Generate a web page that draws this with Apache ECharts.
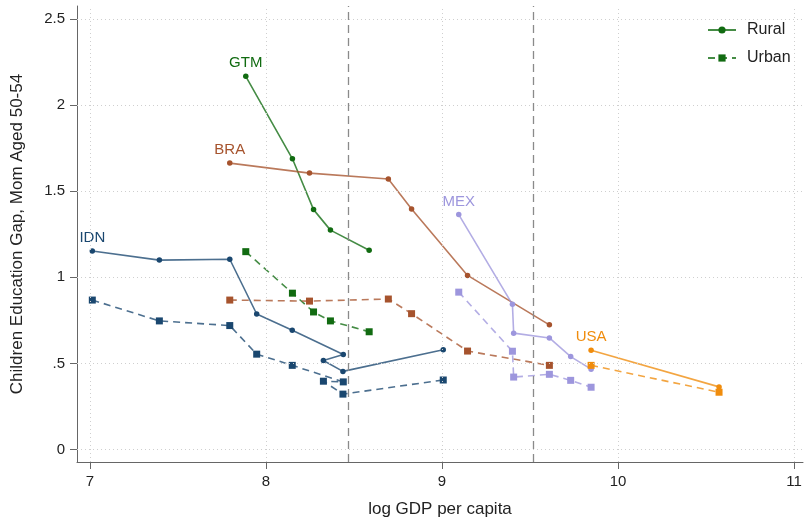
<!DOCTYPE html>
<html>
<head>
<meta charset="utf-8">
<script src="https://cdn.jsdelivr.net/npm/echarts@6/dist/echarts.min.js"></script>
<style>
  html, body { margin: 0; padding: 0; background: #fff; }
  #chart { width: 805px; height: 523px; }
</style>
</head>
<body>
<div id="chart"></div>
<script>
// Log GDP per capita by survey wave, one array per country
const idnGdp = [7.013, 7.394, 7.794, 7.947, 8.149, 8.439, 8.326, 8.437, 9.007];
const idnRural = [1.153, 1.100, 1.105, 0.787, 0.693, 0.552, 0.517, 0.454, 0.580];
const idnUrban = [0.868, 0.747, 0.720, 0.554, 0.489, 0.393, 0.397, 0.322, 0.404];

const gtmGdp = [7.885, 8.150, 8.270, 8.366, 8.586];
const gtmRural = [2.167, 1.688, 1.393, 1.274, 1.157];
const gtmUrban = [1.149, 0.908, 0.799, 0.747, 0.684];

const braGdp = [7.794, 8.247, 8.695, 8.827, 9.145, 9.610];
const braRural = [1.663, 1.605, 1.571, 1.397, 1.011, 0.724];
const braUrban = [0.868, 0.862, 0.874, 0.789, 0.572, 0.489];

const mexGdp = [9.095, 9.400, 9.407, 9.610, 9.731, 9.847];
const mexRural = [1.364, 0.843, 0.676, 0.648, 0.540, 0.467];
const mexUrban = [0.914, 0.571, 0.421, 0.437, 0.402, 0.362];

const usaGdp = [9.847, 10.574];
const usaRural = [0.577, 0.364];
const usaUrban = [0.489, 0.333];

// Reference income thresholds (dashed verticals)
const thresholds = [8.466, 9.517];

// Axis ticks
const xTicks = [7, 8, 9, 10, 11];
const yTicks = [0, 0.5, 1, 1.5, 2, 2.5];
const yTickLabels = ['0', '.5', '1', '1.5', '2', '2.5'];

const FONT = '"Liberation Sans", Arial, Helvetica, sans-serif';

const countries = [
  { code: 'IDN', gdp: idnGdp, rural: idnRural, urban: idnUrban, color: '#1a476f' },
  { code: 'GTM', gdp: gtmGdp, rural: gtmRural, urban: gtmUrban, color: '#116b11' },
  { code: 'BRA', gdp: braGdp, rural: braRural, urban: braUrban, color: '#a6532d' },
  { code: 'MEX', gdp: mexGdp, rural: mexRural, urban: mexUrban, color: '#9d96dd' },
  { code: 'USA', gdp: usaGdp, rural: usaRural, urban: usaUrban, color: '#f08c0c' }
];

function pairs(xs, ys) {
  return xs.map((x, i) => [x, ys[i]]);
}

const series = [];

// Background grid and threshold lines
series.push({
  type: 'line',
  name: 'grid',
  data: [],
  silent: true,
  z: 1,
  markLine: {
    silent: true,
    symbol: 'none',
    label: { show: false },
    animation: false,
    data: [
      ...yTicks.map(v => ({ yAxis: v, lineStyle: { color: '#cfcfcf', width: 1, type: [1, 3] } })),
      ...xTicks.map(v => ({ xAxis: v, lineStyle: { color: '#cfcfcf', width: 1, type: [1, 3] } })),
      ...thresholds.map(v => ({ xAxis: v, lineStyle: { color: '#8a8a8a', width: 1.3, type: [8, 5] } }))
    ]
  }
});

countries.forEach(c => {
  const isLegend = c.code === 'GTM';
  const ruralData = pairs(c.gdp, c.rural).map((p, i) => i === 0 ? {
    value: p,
    label: {
      show: true, position: 'top', distance: 3, formatter: c.code,
      color: c.color, fontSize: 15, fontFamily: FONT
    }
  } : p);
  series.push({
    type: 'line',
    name: isLegend ? 'Rural' : c.code + ' rural',
    data: ruralData,
    symbol: 'circle',
    symbolSize: 5.5,
    z: 3,
    lineStyle: { color: c.color, width: 1.6, opacity: 0.78 },
    itemStyle: { color: c.color },
    emphasis: { disabled: true },
    animation: false
  });
  series.push({
    type: 'line',
    name: isLegend ? 'Urban' : c.code + ' urban',
    data: pairs(c.gdp, c.urban),
    symbol: 'rect',
    symbolSize: 7,
    z: 3,
    lineStyle: { color: c.color, width: 1.6, opacity: 0.78, type: [7, 5] },
    itemStyle: { color: c.color },
    emphasis: { disabled: true },
    animation: false
  });
});

const chart = echarts.init(document.getElementById('chart'), null, { renderer: 'canvas' });
chart.setOption({
  backgroundColor: '#fff',
  animation: false,
  textStyle: { fontFamily: FONT },
  grid: { left: 77, right: 2, top: 6, bottom: 57, containLabel: false },
  legend: {
    data: ['Rural', 'Urban'],
    orient: 'vertical',
    left: 698,
    top: 13,
    itemWidth: 28,
    itemHeight: 9,
    itemGap: 12,
    padding: [9, 14, 9, 9],
    backgroundColor: '#fff',
    textStyle: { fontSize: 16, color: '#222', fontFamily: FONT, padding: [0, 0, 0, 6] }
  },
  xAxis: {
    type: 'value',
    min: 6.926,
    max: 11.051,
    name: 'log GDP per capita',
    nameLocation: 'middle',
    nameGap: 39,
    nameTextStyle: { fontSize: 17, color: '#222', fontFamily: FONT },
    axisLine: { show: true, onZero: false, lineStyle: { color: '#666', width: 1 } },
    axisTick: { show: true, length: 7, customValues: xTicks, lineStyle: { color: '#666' } },
    axisLabel: { customValues: xTicks, fontSize: 15, color: '#222', margin: 12, fontFamily: FONT },
    splitLine: { show: false }
  },
  yAxis: {
    type: 'value',
    min: -0.072,
    max: 2.575,
    name: 'Children Education Gap, Mom Aged 50-54',
    nameLocation: 'middle',
    nameGap: 51,
    nameTextStyle: { fontSize: 17, color: '#222', fontFamily: FONT },
    axisLine: { show: true, onZero: false, lineStyle: { color: '#666', width: 1 } },
    axisTick: { show: true, length: 7, customValues: yTicks, lineStyle: { color: '#666' } },
    axisLabel: {
      customValues: yTicks, fontSize: 15, color: '#222', margin: 12, fontFamily: FONT,
      formatter: v => {
        const i = yTicks.findIndex(t => Math.abs(t - v) < 1e-9);
        return i >= 0 ? yTickLabels[i] : '';
      }
    },
    splitLine: { show: false }
  },
  series: series
});
</script>
</body>
</html>
